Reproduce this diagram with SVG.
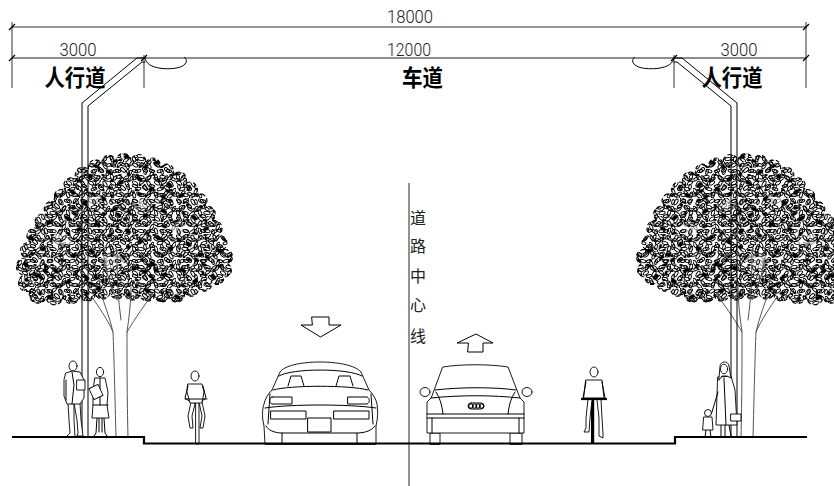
<svg xmlns="http://www.w3.org/2000/svg" xmlns:xlink="http://www.w3.org/1999/xlink" width="834" height="486" viewBox="0 0 834 486">
  <style>
    .ln { fill: none; stroke: #000; stroke-width: 1; stroke-linejoin: round; stroke-linecap: round; }
    .fig { fill: #fff; stroke: #000; stroke-width: 0.9; stroke-linejoin: round; stroke-linecap: round; }
    .dim { fill: none; stroke: #333; stroke-width: 1; }
    .dim2 { fill: none; stroke: #666; stroke-width: 1.6; }
    .tick { stroke: #000; stroke-width: 1.3; }
    .gnd { fill: none; stroke: #000; stroke-width: 2.2; }
    .branch { fill: none; stroke: #555; stroke-width: 1; stroke-linecap: round; }
    .num { font-family: Roboto, "Liberation Sans", sans-serif; font-weight: 300; font-size: 19px; fill: #222; text-anchor: middle; }
    .zone { font-family: "Noto Sans CJK SC", "Noto Sans CJK JP", sans-serif; font-weight: 700; font-size: 23px; fill: #000; text-anchor: middle; }
    .axis { font-family: "Noto Sans CJK SC", "Noto Sans CJK JP", sans-serif; font-weight: 400; font-size: 16px; fill: #222; text-anchor: middle; }
    .leaf { fill: none; stroke: #000; stroke-width: 0.95; }
    .gap { fill: #fff; opacity: 0.55; }
  </style>
  <defs>
    <!-- three overlapping leaf textures with different periods -->
    <pattern id="leavesA" width="22" height="18" patternUnits="userSpaceOnUse">
      <g class="leaf">
        <ellipse cx="3" cy="3" rx="3" ry="1.5" transform="rotate(30 3 3)"/>
        <ellipse cx="10" cy="2" rx="3" ry="1.4" transform="rotate(-40 10 2)"/>
        <ellipse cx="17" cy="4" rx="3.2" ry="1.5" transform="rotate(60 17 4)"/>
        <ellipse cx="6" cy="9" rx="3" ry="1.5" transform="rotate(-20 6 9)"/>
        <ellipse cx="13" cy="8" rx="3" ry="1.6" transform="rotate(40 13 8)"/>
        <ellipse cx="20" cy="11" rx="3" ry="1.4" transform="rotate(-60 20 11)"/>
        <ellipse cx="2" cy="15" rx="3" ry="1.5" transform="rotate(70 2 15)"/>
        <ellipse cx="9" cy="15" rx="3.2" ry="1.5" transform="rotate(10 9 15)"/>
        <ellipse cx="16" cy="16" rx="3" ry="1.5" transform="rotate(-35 16 16)"/>
      </g>
      <ellipse cx="8" cy="5" rx="1.6" ry="1" fill="#000"/>
    </pattern>
    <pattern id="leavesB" width="17" height="15" patternUnits="userSpaceOnUse" patternTransform="translate(5 3)">
      <g class="leaf">
        <ellipse cx="4" cy="4" rx="2.6" ry="1.3" transform="rotate(80 4 4)"/>
        <ellipse cx="11" cy="3" rx="2.8" ry="1.3" transform="rotate(15 11 3)"/>
        <ellipse cx="8" cy="10" rx="2.7" ry="1.4" transform="rotate(-50 8 10)"/>
        <ellipse cx="15" cy="11" rx="2.6" ry="1.3" transform="rotate(35 15 11)"/>
        <ellipse cx="2" cy="12" rx="2.6" ry="1.3" transform="rotate(-10 2 12)"/>
      </g>
      <ellipse cx="13" cy="7" rx="1.8" ry="1.1" fill="#000"/>
      <ellipse cx="5" cy="13" rx="1.5" ry="1" fill="#000"/>
    </pattern>
    <pattern id="leavesC" width="31" height="27" patternUnits="userSpaceOnUse" patternTransform="translate(11 7) rotate(12)">
      <g fill="#000">
        <ellipse cx="6" cy="6" rx="3.5" ry="2" transform="rotate(25 6 6)"/>
        <ellipse cx="20" cy="14" rx="3" ry="2" transform="rotate(-30 20 14)"/>
        <ellipse cx="10" cy="21" rx="2.6" ry="1.6"/>
        <ellipse cx="26" cy="4" rx="2.4" ry="1.5" transform="rotate(60 26 4)"/>
      </g>
    </pattern>
    <pattern id="clump" width="9" height="8" patternUnits="userSpaceOnUse" patternTransform="rotate(35)">
      <ellipse cx="4" cy="4" rx="3" ry="1.8" fill="#000"/>
    </pattern>
    <path id="canopy" d="M30,291 A7 7 0 0 1 24,275 A7 7 0 0 1 26,258 A7 7 0 0 1 31,243 A7 7 0 0 1 39,229 A7 7 0 0 1 47,215 A7 7 0 0 1 57,203 A7 7 0 0 1 66,191 A7 7 0 0 1 77,180 A7 7 0 0 1 89,170 A7 7 0 0 1 102,164 A7 7 0 0 1 116,161 A7 7 0 0 1 131,161 A7 7 0 0 1 146,163 A7 7 0 0 1 160,168 A7 7 0 0 1 173,175 A7 7 0 0 1 185,184 A7 7 0 0 1 195,195 A7 7 0 0 1 204,207 A7 7 0 0 1 211,221 A7 7 0 0 1 217,236 A7 7 0 0 1 222,250 A7 7 0 0 1 228,264 A7 7 0 0 1 224,277 A7 7 0 0 1 211,281 A7 7 0 0 1 198,287 A7 7 0 0 1 184,291 A7 7 0 0 1 169,297 A7 7 0 0 1 155,292 A7 7 0 0 1 140,295 A7 7 0 0 1 125,289 A7 7 0 0 1 110,293 A7 7 0 0 1 95,290 A7 7 0 0 1 80,296 A7 7 0 0 1 63,294 A7 7 0 0 1 46,298 A7 7 0 0 1 30,291 Z"/>
    <g id="tree-art">
      <use xlink:href="#canopy" fill="url(#leavesA)"/>
      <use xlink:href="#canopy" fill="url(#leavesC)"/>
      <!-- lighter openings in the foliage -->
      <ellipse class="gap" cx="62" cy="240" rx="10" ry="7"/>
      <ellipse class="gap" cx="112" cy="262" rx="12" ry="9"/>
      <ellipse class="gap" cx="178" cy="228" rx="9" ry="6"/>
      <ellipse class="gap" cx="140" cy="205" rx="8" ry="5"/>
      <ellipse class="gap" cx="95" cy="200" rx="7" ry="5"/>
      <use xlink:href="#canopy" fill="url(#leavesB)" stroke="#000" stroke-width="1.1" stroke-dasharray="4 3"/>
      <!-- denser leaf clusters -->
      <g fill="url(#clump)">
        <ellipse cx="45" cy="275" rx="12" ry="8"/>
        <ellipse cx="150" cy="270" rx="14" ry="8"/>
        <ellipse cx="200" cy="260" rx="10" ry="7"/>
        <ellipse cx="120" cy="215" rx="12" ry="7"/>
        <ellipse cx="75" cy="215" rx="9" ry="6"/>
        <ellipse cx="165" cy="195" rx="9" ry="6"/>
        <ellipse cx="95" cy="280" rx="10" ry="6"/>
      </g>
      <path class="branch" d="M116,437 C115,400 114,355 113,332 C110,318 104,304 100,290 M113,332 C108,320 98,306 92,297"/>
      <path class="branch" d="M128,437 C127,400 127,355 127,332 C135,318 145,305 153,293 M127,332 C129,318 131,302 131,287 M121,320 C118,300 117,275 117,255 M131,300 C137,295 142,290 141,283 M117,300 C110,285 106,270 104,258"/>
    </g>
    <!-- lamp post: double-line pole bending to a bowl-shaped head -->
    <g id="lamp-art">
      <path class="ln" d="M82,437 V103 L137,58 H145"/>
      <path class="ln" d="M88,437 V106 L142,62 H145"/>
      <path class="ln" d="M145,58 C146,63 150,67 162,68.5 C174,69.5 184,67.5 186,62.5 C187,60 186,58.5 184.5,57.5"/>
    </g>
  </defs>

  <rect width="834" height="486" fill="#fff"/>

  <!-- dimensions -->
  <g id="dimensions">
    <path class="dim" d="M12,27 H807 M12,22 V88 M806,22 V88 M144,55 V88 M674,55 V88"/>
    <path class="dim2" d="M12,58 H807"/>
    <path class="tick" d="M9,30 L15,24 M9,61 L15,55 M141,61 L147,55 M671,61 L677,55 M803,61 L809,55 M803,30 L809,24"/>
    <text class="num" x="410" y="23" textLength="46" lengthAdjust="spacingAndGlyphs">18000</text>
    <text class="num" x="78" y="56" textLength="37" lengthAdjust="spacingAndGlyphs">3000</text>
    <text class="num" x="409" y="56" textLength="44" lengthAdjust="spacingAndGlyphs">12000</text>
    <text class="num" x="739" y="56" textLength="37" lengthAdjust="spacingAndGlyphs">3000</text>
  </g>

  <!-- zone labels -->
  <g id="labels">
    <text class="zone" x="75" y="86" textLength="61" lengthAdjust="spacingAndGlyphs">人行道</text>
    <text class="zone" x="422.5" y="86" textLength="41" lengthAdjust="spacingAndGlyphs">车道</text>
    <text class="zone" x="732" y="86" textLength="61" lengthAdjust="spacingAndGlyphs">人行道</text>
  </g>

  <!-- trees -->
  <g id="tree-left"><use xlink:href="#tree-art"/></g>
  <g id="tree-right" transform="translate(869,0) scale(-1,1)"><use xlink:href="#tree-art"/></g>

  <!-- street lamps -->
  <g id="lamp-left"><use xlink:href="#lamp-art"/></g>
  <g id="lamp-right" transform="translate(819,0) scale(-1,1)"><use xlink:href="#lamp-art"/></g>

  <!-- road centre line with vertical label -->
  <g id="centre-line">
    <path d="M409,183 V486" stroke="#222" stroke-width="1" fill="none"/>
    <text class="axis" x="418" y="224">道</text>
    <text class="axis" x="418" y="252">路</text>
    <text class="axis" x="418" y="282">中</text>
    <text class="axis" x="418" y="311">心</text>
    <text class="axis" x="418" y="342">线</text>
  </g>

  <!-- direction arrows -->
  <g id="arrow-down">
    <path class="ln" d="M312,317 H329 V325 H341 L320.5,337 L301,325 H312 Z" stroke-width="0.9"/>
  </g>
  <g id="arrow-up">
    <path class="ln" d="M468,352 H483 V343 H493 L476,334 L457,343 H468 Z" stroke-width="0.9"/>
  </g>

  <!-- pedestrians, left sidewalk -->
  <g id="man-left">
    <ellipse class="fig" cx="73" cy="366" rx="4" ry="5"/>
    <path class="fig" d="M68,403 L69,420 L70,433 L66,437 L75,437 L74,420 L74,403 Z"/>
    <path class="fig" d="M74,403 L77,420 L78,433 L77,436 L83,436 L81,420 L80,403 Z"/>
    <path class="fig" d="M66,373 L72,371 L80,372 L84,380 L84,398 L80,404 L67,404 L64,396 L64,380 Z"/>
    <path class="ln" d="M72,372 L74,385 L72,404 M66,380 L66,400"/>
    <rect class="fig" x="77" y="380" width="8" height="10"/>
  </g>
  <g id="woman-left">
    <ellipse class="fig" cx="100" cy="372" rx="3.6" ry="4.6"/>
    <path class="ln" d="M97,418 L96,433 L94,436 M104,418 L105,433 L107,436 M99,418 L99,432 M102,418 L102,432"/>
    <path class="fig" d="M95,378 L105,378 L108,392 L107,405 L109,418 L92,418 L93,405 L93,392 Z"/>
    <path class="ln" d="M100,378 L100,405 M93,405 H108"/>
    <rect class="fig" x="91" y="386" width="10" height="12" transform="rotate(-25 96 392)"/>
  </g>

  <!-- cyclists -->
  <g id="cyclist-left">
    <path class="fig" d="M196,402 H199 V444 H196 Z"/>
    <path class="fig" d="M191,402 L188,416 L190,428 L193,428 L192,416 L195,404 Z"/>
    <path class="fig" d="M199,402 L202,416 L200,428 L203,428 L205,416 L202,402 Z"/>
    <path class="fig" d="M188,384 L202,384 L204,392 L202,403 L190,403 L187,392 Z"/>
    <path class="ln" d="M188,386 L185,398 L189,401 M203,386 L206,398 L202,401 M185,399 H207"/>
    <ellipse class="fig" cx="195" cy="376" rx="4" ry="5"/>
  </g>
  <g id="cyclist-right">
    <rect x="591" y="400" width="3.2" height="44" fill="#000"/>
    <path class="fig" d="M588,399 L586,418 L586,428 L584,432 L589,432 L590,418 L592,400 Z"/>
    <path class="fig" d="M597,400 L599,418 L599,436 L603,438 L603,434 L602,418 L601,399 Z"/>
    <path class="fig" d="M586,380 L602,380 L604,398 L584,398 Z"/>
    <path class="ln" d="M586,382 L583,398 M602,382 L605,398"/>
    <path d="M581,399 H607" stroke="#000" stroke-width="2.2"/>
    <ellipse class="fig" cx="594" cy="372" rx="4" ry="5"/>
  </g>

  <!-- pedestrians, right sidewalk -->
  <g id="woman-right">
    <path class="ln" d="M721,425 L721,436 M729,425 L731,436 M725,425 L725,436"/>
    <path class="fig" d="M718,377 L731,376 L735,390 L737,425 L716,425 L717,395 Z"/>
    <path class="ln" d="M724,378 L726,425 M718,392 L712,412"/>
    <path class="fig" d="M720,366 C720,361 728,360 729,366 L731,378 L727,376 L722,376 L719,380 Z"/>
    <ellipse class="fig" cx="724" cy="369" rx="3.6" ry="4.8"/>
    <rect class="fig" x="731" y="414" width="10" height="7"/>
  </g>
  <g id="child-right">
    <path class="ln" d="M706,430 L705,437 M710,430 L711,437"/>
    <path class="fig" d="M704,417 L712,417 L713,430 L703,430 Z"/>
    <circle class="fig" cx="708" cy="413" r="3.5"/>
  </g>

  <!-- cars -->
  <g id="car-left">
    <path class="fig" d="M265,444 L264,426 C262,418 262,410 264,404 C265,399 268,394 272,390 L280,372 C284,366 300,362 320,362 C340,362 356,366 361,372 L369,390 C373,394 376,399 377,404 C378,410 378,418 376,426 L376,444 Z"/>
    <path class="ln" d="M282,444 V433 H357 V444 M266,426 C268,430 274,433 282,433 M357,433 C366,433 372,430 375,426"/>
    <path class="ln" d="M279,376 C292,368 348,368 362,376"/>
    <path class="ln" d="M273,390 C290,385 350,385 368,390"/>
    <path class="ln" d="M288,386 L291,376 L301,376 L304,386 M336,386 L339,376 L350,376 L353,386"/>
    <path class="ln" d="M272,397 H292 V404 H272 C269,403 269,398 272,397 Z M348,397 H367 C370,398 370,403 367,404 H348 Z"/>
    <path class="ln" d="M265,408 C290,404 350,404 376,408"/>
    <rect class="ln" x="271" y="411" width="35" height="8"/>
    <rect class="ln" x="334" y="411" width="35" height="8"/>
    <rect class="ln" x="308" y="418" width="23" height="14"/>
    <path class="ln" d="M270,394 L268,424 M371,394 L373,424"/>
  </g>
  <g id="car-right">
    <ellipse class="fig" cx="425" cy="392" rx="5" ry="4.5"/>
    <ellipse class="fig" cx="527" cy="392" rx="5" ry="4.5"/>
    <path class="fig" d="M430,444 V433 H440 V444 Z M510,444 V433 H522 V444 Z"/>
    <path class="fig" d="M443,367 C460,364 490,364 508,367 L520,398 L524,402 L524,433 L427,433 L427,402 L431,398 Z"/>
    <path class="ln" d="M435,390 C460,387 495,387 516,390"/>
    <path class="ln" d="M431,398 C460,395 492,395 520,398"/>
    <path class="ln" d="M436,392 C440,398 442,405 443,414 M515,392 C511,398 509,405 508,414"/>
    <path class="ln" d="M427,414 H524 M427,418 H524 M432,418 V433 M519,418 V433"/>
    <rect class="ln" x="468" y="403" width="16" height="6" rx="3"/>
    <g class="ln" stroke-width="0.8">
      <circle cx="471" cy="406" r="2.2"/>
      <circle cx="474.5" cy="406" r="2.2"/>
      <circle cx="478" cy="406" r="2.2"/>
      <circle cx="481.5" cy="406" r="2.2"/>
    </g>
  </g>

  <!-- ground with kerbs -->
  <g id="ground">
    <path class="gnd" d="M12,437 H144 V443.5 H675 V437 H807"/>
  </g>
</svg>
